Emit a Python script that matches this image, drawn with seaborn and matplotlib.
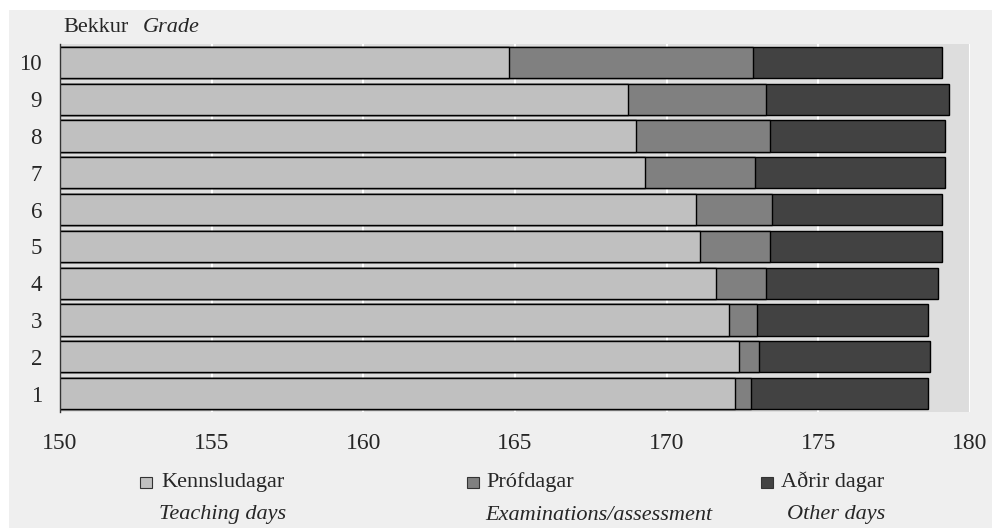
import matplotlib
matplotlib.use("Agg")
import matplotlib.pyplot as plt
from matplotlib.patches import Rectangle
import pandas as pd
import seaborn as sns

grades = ["1", "2", "3", "4", "5", "6", "7", "8", "9", "10"]
teaching = [172.25, 172.38, 172.04, 171.63, 171.10, 170.96, 169.27, 169.00, 168.73, 164.80]
exams = [0.53, 0.68, 0.94, 1.64, 2.30, 2.50, 3.65, 4.40, 4.54, 8.06]
other = [5.84, 5.62, 5.64, 5.68, 5.69, 5.63, 6.24, 5.76, 6.03, 6.23]

labels_is = ["Kennsludagar", "Prófdagar", "Aðrir dagar"]
labels_en = ["Teaching days", "Examinations/assessment", "Other days"]
colors = ["#c0c0c0", "#808080", "#424242"]

W, H = 992, 528


def fx(px):
    return px / W


def fy(py):
    return 1 - py / H


df = pd.DataFrame({"grade": grades, "teaching": teaching, "exams": exams, "other": other})
df["c1"] = df["teaching"]
df["c2"] = df["teaching"] + df["exams"]
df["c3"] = df["c2"] + df["other"]

sns.set_style("white")
plt.rcParams["font.family"] = ["Liberation Serif", "DejaVu Serif"]

fig = plt.figure(figsize=(W / 100, H / 100), dpi=100, facecolor="white")
fig.add_artist(Rectangle((fx(9), 0), 1 - fx(9), fy(10), transform=fig.transFigure,
                         facecolor="#efefef", edgecolor="none", zorder=0))

ax = fig.add_axes([fx(60), fy(412), fx(970) - fx(60), fy(44) - fy(412)])
ax.set_facecolor("#dddddd")

# stacked bars: draw running totals from the longest down
order = grades[::-1]
for col, color in zip(["c3", "c2", "c1"], colors[::-1]):
    sns.barplot(data=df, x=col, y="grade", order=order, orient="h", color=color,
                saturation=1, width=0.85, edgecolor="black", linewidth=1, ax=ax)

ax.set_xlim(150, 180)
ax.set_xticks(range(150, 181, 5))
ax.set_xlabel("")
ax.set_ylabel("")
ax.grid(axis="x", color="white", linewidth=1.5)
ax.set_axisbelow(True)
for side in ["top", "right", "bottom"]:
    ax.spines[side].set_visible(False)
ax.spines["left"].set_color("#333333")
ax.spines["left"].set_linewidth(1)
ax.tick_params(axis="x", length=0, labelsize=17, pad=15)
ax.tick_params(axis="y", length=0, labelsize=16.5, pad=13)

fig.text(fx(63), fy(27), "Bekkur", fontsize=16, va="center")
fig.text(fx(143), fy(27), "Grade", fontsize=16, style="italic", va="center")

marker_x = [140, 467, 761]
text_x = [161, 486, 781]
sub_x = [159, 485, 787]
for mx, tx, sx, lab, sub, color in zip(marker_x, text_x, sub_x, labels_is, labels_en, colors):
    fig.add_artist(Rectangle((fx(mx), fy(488)), 12 / W, 11 / H, transform=fig.transFigure,
                             facecolor=color, edgecolor="#333333", linewidth=0.8))
    fig.text(fx(tx), fy(482), lab, fontsize=16, va="center")
    fig.text(fx(sx), fy(515), sub, fontsize=16, style="italic", va="center")

fig.savefig("out.png", dpi=100, facecolor="white")
